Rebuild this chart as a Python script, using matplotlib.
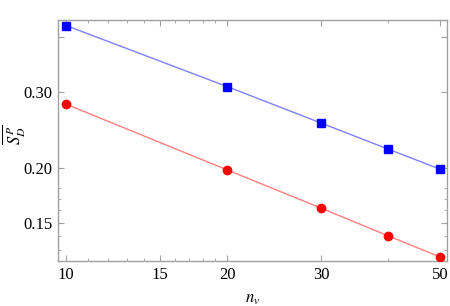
import matplotlib
matplotlib.use("Agg")
import matplotlib.pyplot as plt
from matplotlib.ticker import FixedLocator, NullFormatter, FixedFormatter

n_v = [10, 20, 30, 40, 50]
blue_vals = [0.4254, 0.308, 0.2538, 0.2212, 0.1989]
red_vals = [0.2806, 0.1982, 0.1618, 0.1398, 0.1250]

x_major = [10, 15, 20, 30, 50]
x_major_labels = ["10", "15", "20", "30", "50"]
x_minor = [11, 12, 13, 14, 16, 17, 18, 19, 40]
y_major = [0.15, 0.20, 0.30, 0.40]
y_major_labels = ["0.15", "0.20", "0.30", ""]
y_minor = [0.13, 0.14, 0.16, 0.17, 0.18]

plt.rcParams['mathtext.fontset'] = 'stix'
plt.rcParams['font.family'] = ['Liberation Serif', 'DejaVu Serif']

fig = plt.figure(figsize=(4.5, 3.06), dpi=100)
ax = fig.add_axes([58/450, 1-261/306, (447-58)/450, (261-20)/306])

ax.plot(n_v, blue_vals, color='#8080ff', lw=1.0, zorder=2)
ax.plot(n_v, blue_vals, linestyle='none', marker='s', ms=5.5, color='#0000ff', zorder=3)
ax.plot(n_v, red_vals, color='#ff8080', lw=1.0, zorder=2)
ax.plot(n_v, red_vals, linestyle='none', marker='o', ms=6, color='#ff0000', zorder=3)

ax.set_xscale('log')
ax.set_yscale('log')
ax.set_xlim(9.66, 51.5)
ax.set_ylim(0.1224, 0.438)

ax.xaxis.set_major_locator(FixedLocator(x_major))
ax.xaxis.set_major_formatter(FixedFormatter(x_major_labels))
ax.xaxis.set_minor_locator(FixedLocator(x_minor))
ax.xaxis.set_minor_formatter(NullFormatter())
ax.yaxis.set_major_locator(FixedLocator(y_major))
ax.yaxis.set_major_formatter(FixedFormatter(y_major_labels))
ax.yaxis.set_minor_locator(FixedLocator(y_minor))
ax.yaxis.set_minor_formatter(NullFormatter())

for s in ax.spines.values():
    s.set_color('#a0a0a0')
    s.set_linewidth(1.0)

ax.tick_params(which='both', direction='in', top=True, right=True, color='#a0a0a0',
               labelsize=12, labelcolor='black')
ax.tick_params(which='major', length=4, width=0.8, pad=4)
ax.tick_params(which='minor', length=2.5, width=0.6)

ax.set_xlabel(r'$n_v$', fontsize=12)
ax.set_ylabel(r'$\overline{S_D^P}$', fontsize=12)
ax.xaxis.set_label_coords((253-58)/389, (261-291)/241)
ax.yaxis.set_label_coords((28-58)/389, (261-135)/241)

fig.savefig('out.png', dpi=100)
